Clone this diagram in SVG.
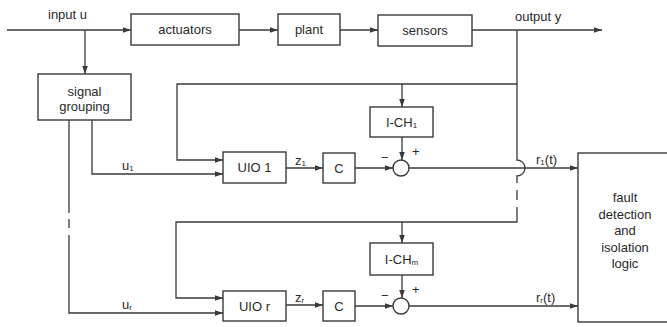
<svg xmlns="http://www.w3.org/2000/svg" width="667" height="327" viewBox="0 0 667 327">
<style>
.b{fill:none;stroke:#3a3a3a;stroke-width:1.4}
.l{fill:none;stroke:#3a3a3a;stroke-width:1.3}
.a{marker-end:url(#ah)}
text{font-family:"Liberation Sans",Arial,sans-serif;font-size:13px;fill:#2a2a2a}
.c{text-anchor:middle}
.s{font-size:8px}
</style>
<defs>
<marker id="ah" viewBox="0 0 10 10" refX="10" refY="5" markerWidth="8" markerHeight="8" markerUnits="userSpaceOnUse" orient="auto">
<path d="M0,1.5 L10,5 L0,8.5 Z" fill="#3a3a3a"/>
</marker>
</defs>
<rect x="0" y="0" width="667" height="327" fill="#ffffff"/>

<g id="connectors">
<path class="l a" d="M7,30 H131"/>
<path class="l a" d="M239,30 H278"/>
<path class="l a" d="M340,30 H378"/>
<path class="l a" d="M472,30 H602"/>
<path class="l a" d="M85,30 V74"/>
<path class="l a" d="M92,120 V174 H223"/>
<path class="l" d="M69,120 V213 M69,219 V228"/>
<path class="l a" d="M69,235 V313 H223"/>
<path class="l" d="M517,30 V160 A8,8 0 0 1 517,176 V183 M517,190 V200"/>
<path class="l a" d="M517,207 V222 H176 V298 H223"/>
<path class="l a" d="M517,84 H177 V160 H223"/>
<path class="l a" d="M402,84 V107"/>
<path class="l a" d="M402,137 V160"/>
<path class="l a" d="M286,168 H323"/>
<path class="l a" d="M355,168 H393"/>
<path class="l a" d="M409,168 H578"/>
<path class="l a" d="M402,222 V243"/>
<path class="l a" d="M402,275 V298"/>
<path class="l a" d="M286,305 H323"/>
<path class="l a" d="M355,306 H393"/>
<path class="l a" d="M409,306 H578"/>
<text x="48" y="19">input  u</text>
<text x="515" y="21">output  y</text>
<text x="122" y="170">u<tspan class="s" dy="1">1</tspan></text>
<text x="122" y="309">u<tspan class="s" dy="1">r</tspan></text>
<text x="295" y="165">z<tspan class="s" dy="1">1</tspan></text>
<text x="295" y="302">z<tspan class="s" dy="1">r</tspan></text>
<text x="536" y="164">r<tspan class="s" dy="1">1</tspan><tspan dy="-1">(t)</tspan></text>
<text x="536" y="302">r<tspan class="s" dy="1">r</tspan><tspan dy="-1">(t)</tspan></text>
</g>

<g id="actuators"><rect class="b" x="131" y="14" width="108" height="31"/><text class="c" x="185" y="34">actuators</text></g>
<g id="plant"><rect class="b" x="278" y="14" width="62" height="31"/><text class="c" x="309" y="34">plant</text></g>
<g id="sensors"><rect class="b" x="378" y="15" width="94" height="31"/><text class="c" x="425" y="35">sensors</text></g>
<g id="signal-grouping"><rect class="b" x="38" y="74" width="93" height="46"/><text class="c" x="84.5" y="96">signal</text><text class="c" x="84.5" y="111">grouping</text></g>

<g id="ich1"><rect class="b" x="370" y="107" width="63" height="30"/><text class="c" x="401.5" y="127">I-CH<tspan class="s" dy="1">1</tspan></text></g>
<g id="uio1"><rect class="b" x="223" y="152" width="63" height="31"/><text class="c" x="254.5" y="172">UIO 1</text></g>
<g id="c1"><rect class="b" x="323" y="153" width="32" height="30"/><text class="c" x="339" y="173">C</text></g>
<g id="sum1"><circle class="b" cx="401" cy="168" r="8"/><text x="381" y="162">−</text><text x="412" y="156">+</text></g>

<g id="ichm"><rect class="b" x="370" y="243" width="63" height="32"/><text class="c" x="401.5" y="264">I-CH<tspan class="s" dy="1">m</tspan></text></g>
<g id="uior"><rect class="b" x="223" y="291" width="63" height="30"/><text class="c" x="254.5" y="311">UIO r</text></g>
<g id="cr"><rect class="b" x="323" y="291" width="32" height="30"/><text class="c" x="339" y="311">C</text></g>
<g id="sumr"><circle class="b" cx="401" cy="306" r="8"/><text x="381" y="300">−</text><text x="412" y="294">+</text></g>

<g id="fdi"><rect class="b" x="578" y="153" width="95" height="169"/>
<text class="c" x="625" y="202">fault</text><text class="c" x="625" y="219">detection</text><text class="c" x="625" y="235">and</text><text class="c" x="625" y="252">isolation</text><text class="c" x="625" y="268">logic</text></g>
</svg>
